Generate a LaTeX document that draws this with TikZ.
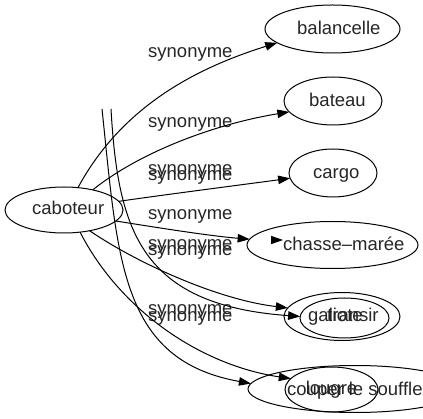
\documentclass[tikz,border=0pt]{standalone}
\usepackage{fontspec}
\setmainfont{Liberation Sans}
\usetikzlibrary{shapes.geometric,arrows.meta}
\begin{document}
\begin{tikzpicture}[x=1pt,y=-1pt,
  ell/.style={draw, ellipse, inner sep=0pt, outer sep=0pt, line width=1pt},
  txt/.style={font=\fontsize{18.5}{20}\selectfont, text=black!85, inner sep=0pt, anchor=base west},
  syn/.style={draw, line width=1pt, -{Triangle[length=12pt,width=8.5pt]}}]
\useasboundingbox (0,0) rectangle (423,419);
\clip (0,0) rectangle (423,419);
% nodes
\node[ell, minimum width=118pt, minimum height=46pt] (cab) at (64,210) {};
\node[ell, minimum width=135pt, minimum height=48pt] (bal) at (332.5,29) {};
\node[ell, minimum width=98pt, minimum height=48pt] (bat) at (333,101) {};
\node[ell, minimum width=88pt, minimum height=48pt] (car) at (333,173) {};
\node[ell, minimum width=171pt, minimum height=47pt] (cha) at (332.5,245) {};
\node[ell, minimum width=116pt, minimum height=48pt] (galb) at (342,316.5) {};
\node[ell, minimum width=89pt, minimum height=40pt] (gals) at (344.5,318) {};
\node[ell, minimum width=214pt, minimum height=47pt] (coub) at (355,389) {};
\node[ell, minimum width=93pt, minimum height=45pt] (lou) at (331.5,389.5) {};
% node texts
\node[txt] (tcab) at (32,215) {caboteur};
\node[txt] (tbal) at (297,35) {balancelle};
\node[txt] (tbat) at (309,107) {bateau};
\node[txt] (tcar) at (313,179) {cargo};
\node[txt] (tcha) at (283,251) {chasse–marée};
\node[txt] (tgal) at (308,322) {galiote};
\node[txt] (ttra) at (327,322) {transir};
\node[txt] (tcou) at (287,395.5) {couper le souffle};
\node[txt] (tlou) at (305.6,395) {lougre};
% edge labels
\node[txt] (s1) at (148,58) {synonyme};
\node[txt] (s2) at (148,128) {synonyme};
\node[txt] (s3) at (148,175) {synonyme};
\node[txt] (s4) at (148,181) {synonyme};
\node[txt] (s5) at (148,220) {synonyme};
\node[txt] (s6) at (148,250) {synonyme};
\node[txt] (s7) at (148,256) {synonyme};
\node[txt] (s8) at (148,315) {synonyme};
\node[txt] (s9) at (148,322) {synonyme};
% free tails
\coordinate (l1s) at (102,109);
\coordinate (l2s) at (111,109);
% edges
\path[syn] (cab.58) .. controls (120,110) and (190,70) .. (bal.194.4);
\path[syn] (cab.35) .. controls (140,152) and (215,124) .. (bat.194.6);
\path[syn] (cab.9.6) .. controls (170,194) and (240,185) .. (car.187.3);
\path[syn] (cab.348.5) .. controls (160,228) and (210,236) .. (cha.176.6);
\path[syn] (cab.321.8) .. controls (140,265) and (220,300) .. (galb.171);
\path[syn] (cab.306) .. controls (120,310) and (200,365) .. (lou.165.5);
\path[syn] (l1s) .. controls (118,260) and (120,360) .. (coub.177);
\path[syn] (l2s) .. controls (118,230) and (140,305) .. (gals.178.7);
% stray arrowhead inside chasse-marée
\fill (283,240) -- (271,235.75) -- (271,244.25) -- cycle;
\end{tikzpicture}
\end{document}
